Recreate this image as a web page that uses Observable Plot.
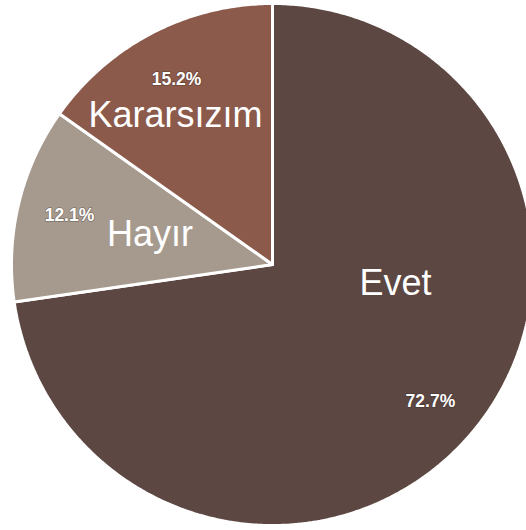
<!DOCTYPE html>
<html>
<head>
<meta charset="utf-8">
<script src="https://cdn.jsdelivr.net/npm/d3@7"></script>
<script src="https://cdn.jsdelivr.net/npm/@observablehq/plot@0.6"></script>
<style>
  html, body { margin: 0; padding: 0; background: #fff; }
  #chart svg { display: block; }
</style>
</head>
<body>
<div id="chart"></div>
<script>
// ---- data ----
const categories = ["Evet", "Hayır", "Kararsızım"];
const values = [72.7, 12.1, 15.2];
const percentLabels = ["72.7%", "12.1%", "15.2%"];
const colors = ["#5c4742", "#a69a8e", "#8b5a4b"];

// ---- layout (label placement in polar terms: degrees clockwise from top, fraction of radius) ----
const nameAngleDeg = [98.6, 283.8, 326.9];
const nameRadius = [0.477, 0.483, 0.681];
const pctRadius = 0.80;

const W = 526, H = 530;
const cx = 272, cy = 264, R = 261;

const data = categories.map((c, i) => ({name: c, value: values[i], pct: percentLabels[i], color: colors[i], i}));
const arcs = d3.pie().sort(null).value(d => d.value)(data);

// slice polygons in unit coordinates (y up)
const poly = [];
for (const a of arcs) {
  poly.push({name: a.data.name, x: 0, y: 0});
  const n = Math.max(2, Math.ceil((a.endAngle - a.startAngle) / 0.01));
  for (let k = 0; k <= n; k++) {
    const t = a.startAngle + (a.endAngle - a.startAngle) * k / n;
    poly.push({name: a.data.name, x: Math.sin(t), y: Math.cos(t)});
  }
  poly.push({name: a.data.name, x: 0, y: 0});
}

const pctPts = arcs.map(a => {
  const m = (a.startAngle + a.endAngle) / 2;
  return {label: a.data.pct, x: pctRadius * Math.sin(m), y: pctRadius * Math.cos(m)};
});
const namePts = arcs.map((a, i) => {
  const m = nameAngleDeg[i] * Math.PI / 180;
  return {label: a.data.name, x: nameRadius[i] * Math.sin(m), y: nameRadius[i] * Math.cos(m)};
});

const chart = Plot.plot({
  width: W,
  height: H,
  margin: 0,
  style: {fontFamily: "'Liberation Sans', Arial, sans-serif", background: "#fff"},
  x: {domain: [-cx / R, (W - cx) / R], range: [0, W], axis: null},
  y: {domain: [-(H - cy) / R, cy / R], range: [H, 0], axis: null},
  color: {domain: categories, range: colors},
  marks: [
    Plot.line(poly, {x: "x", y: "y", z: "name", fill: "name", stroke: "white", strokeWidth: 3, strokeLinejoin: "miter", curve: "linear"}),
    Plot.text(namePts, {x: "x", y: "y", text: "label", fill: "white", fontSize: 36}),
    Plot.text(pctPts, {x: "x", y: "y", text: "label", fill: "white", fontSize: 17.5, fontWeight: "bold", stroke: "#2a1e1b", strokeWidth: 1.5, strokeOpacity: 0.35})
  ]
});
document.getElementById("chart").appendChild(chart);
</script>
</body>
</html>
